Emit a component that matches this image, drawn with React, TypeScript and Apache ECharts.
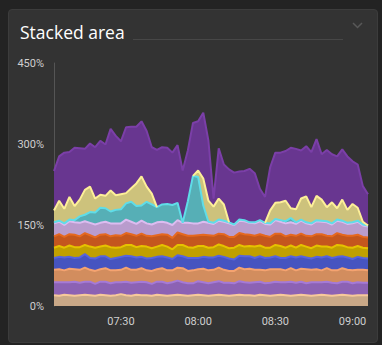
import React, { useEffect, useRef } from "react";
import * as echarts from "echarts";

// samples from 07:04 to 09:06, every 2 minutes
const startMinute = 7 * 60 + 4;
const stepMinutes = 2;
const xTickLabels = ["07:30", "08:00", "08:30", "09:00"];

const seriesNames = ["s1", "s2", "s3", "s4", "s5", "s6", "s7", "s8", "s9", "s10"];

const tanValues = [20,19,21,20,19,20,21,20,19,21, 20,19,20,22,20,19,21,20,20,19, 21,20,19,20,21,20,19,20,21,20, 19,20,21,20,19,20,21,20,20,19, 21,20,19,20,21,20,19,20,21,20, 19,20,21,20,19,20,21,20,19,20, 20,20];
const violetValues = [24,25,23,24,26,23,24,25,22,24, 25,23,24,22,25,24,23,25,24,22, 24,25,23,24,26,24,23,22,25,24, 23,24,25,23,24,22,25,24,23,25, 24,22,24,25,23,24,26,23,24,22, 25,24,23,25,24,22,24,25,23,24, 23,23];
const peachValues = [23,24,22,25,23,24,26,22,24,23, 25,24,22,23,26,24,23,25,22,24, 23,25,24,22,24,26,23,24,22,25, 24,23,25,24,22,23,25,24,26,23, 22,24,25,23,24,22,25,23,24,26, 23,24,22,25,23,24,25,22,24,23, 24,23];
const blueValues = [22,23,24,22,21,23,25,22,23,24, 22,21,23,24,22,25,23,21,22,24, 23,22,24,21,23,22,24,23,21,22, 24,23,22,24,23,21,22,24,23,22, 25,23,22,24,21,23,22,24,23,22, 21,23,24,22,23,25,22,23,21,24, 22,22];
const oliveValues = [19,20,18,21,20,19,17,21,20,18, 20,22,19,18,20,21,19,20,22,18, 19,21,20,18,19,21,20,19,22,20, 18,19,21,20,19,22,20,18,19,21, 20,19,18,21,22,19,20,18,21,20, 19,21,20,18,19,22,20,19,21,20, 19,19];
const rustValues = [21,22,20,21,23,20,22,21,19,22, 21,20,23,21,22,20,21,23,20,22, 21,20,22,21,23,20,21,22,20,21, 23,21,20,22,21,20,22,23,21,20, 21,22,20,21,23,21,20,22,21,20, 22,21,23,20,21,22,20,21,22,21, 20,20];
const lavenderValues = [24,23,22,24,23,25,22,23,24,22, 23,24,22,23,25,23,22,24,23,22, 24,23,22,24,23,21,24,23,22,24, 23,22,24,23,25,22,23,24,22,23, 24,22,23,25,22,24,23,22,24,23, 22,24,23,25,22,23,24,22,23,24, 21,20];
const tealValues = [2,2,3,3,4,12,12,20,22,28, 25,22,25,26,30,37,33,28,40,37, 28,32,35,37,32,0,40,88,86,30, 2,2,2,2,2,1,2,2,1,2, 2,2,2,2,3,4,8,3,2,2, 2,2,2,2,2,2,2,2,2,2, 2,2];
// null where the series has no data
const khakiValues = [22,37,27,42,26,31,46,47,26,24, 23,39,27,28,19,25,42,54,28,20, 0,null,null,null,null,null,null,0,12,50, 39,30,39,30,0,null,null,null,null,null, null,0,24,30,33,38,18,24,39,48, 30,45,39,26,39,21,39,24,34,24, 5,0];
const purpleValues = [73,82,104,83,108,95,76,80,95,100, 95,114,110,98,122,114,105,102,103,86, 106,106,104,97,107,97,94,98,91,122, 111,15,93,74,98,96,89,91,99,91, 58,48,80,93,92,92,112,112,89,93, 102,105,84,106,89,96,93,99,79,80, 66,58];

const seriesValues = [tanValues, violetValues, peachValues, blueValues, oliveValues, rustValues, lavenderValues, tealValues, khakiValues, purpleValues];
const areaColors = ["#c9a887", "#8c62b4", "#d28d5e", "#4654c0", "#c0a000", "#c4561e", "#b99ccd", "#56afb6", "#cdc27c", "#683690"];
const lineColors = ["#f7c99a", "#a57ad6", "#f5a370", "#5664dc", "#e6c200", "#e5681f", "#dcbcf0", "#5fdde8", "#fdef98", "#7b3fa8"];

const yTicks = [0, 150, 300, 450];

const pad = (n: number) => (n < 10 ? "0" + n : "" + n);
const fmtMinute = (m: number) => pad(Math.floor(m / 60)) + ":" + pad(m % 60);

export default function App() {
  const ref = useRef<HTMLDivElement>(null);
  useEffect(() => {
    if (!ref.current) return;
    const chart = echarts.init(ref.current, null, { renderer: "svg" });
    const categories = tanValues.map((_, i) => fmtMinute(startMinute + i * stepMinutes));
    const series = seriesValues.map((vals, si) => ({
      name: seriesNames[si],
      type: "line",
      stack: "total",
      showSymbol: false,
      symbol: "none",
      smooth: false,
      connectNulls: false,
      lineStyle: { color: lineColors[si], width: 2 },
      itemStyle: { color: lineColors[si] },
      areaStyle: { color: areaColors[si], opacity: 1 },
      data: vals.map((v) => (v === null ? "-" : v)),
    }));
    chart.setOption({
      animation: false,
      backgroundColor: "transparent",
      title: {
        text: "Stacked area",
        left: 15,
        top: 18,
        textStyle: { color: "#ffffff", fontSize: 17.5, fontWeight: "normal", fontFamily: "Open Sans" },
      },
      graphic: [
        { type: "line", shape: { x1: 133, y1: 39.5, x2: 343, y2: 39.5 }, style: { stroke: "#474747", lineWidth: 1 } },
        { type: "polyline", shape: { points: [[353, 23], [357.5, 27.5], [362, 23]] }, style: { stroke: "#585858", lineWidth: 1.5, fill: "none" } },
      ],
      grid: { left: 54, right: 14, top: 63, bottom: 39, containLabel: false, outerBoundsMode: "none" },
      xAxis: {
        type: "category",
        data: categories,
        boundaryGap: false,
        axisLine: { show: false },
        axisTick: { show: false },
        splitLine: { show: false },
        axisLabel: {
          interval: (_idx: number, val: string) => xTickLabels.includes(val),
          color: "#cfcfcf",
          fontSize: 11,
          fontFamily: "Roboto",
          margin: 10,
          hideOverlap: false,
        },
      },
      yAxis: {
        type: "value",
        min: 0,
        max: 450,
        interval: 150,
        axisLine: { show: true, lineStyle: { color: "#555555", width: 1 } },
        axisTick: { show: false },
        splitLine: { show: false },
        axisLabel: {
          formatter: (v: number) => (yTicks.includes(v) ? v + "%" : ""),
          color: "#cfcfcf",
          fontSize: 11,
          fontFamily: "Roboto",
          margin: 10,
        },
      },
      series,
    });
    return () => chart.dispose();
  }, []);
  return (
    <div style={{ position: "fixed", left: 0, top: 0, width: 382, height: 345, background: "#232323" }}>
      <div
        style={{
          position: "absolute",
          left: 8,
          top: 9,
          width: 368,
          height: 332,
          background: "#333333",
          border: "1px solid #3c3c3c",
          borderRadius: 4,
        }}
      />
      <div ref={ref} style={{ position: "absolute", left: 0, top: 0, width: 382, height: 345 }} />
    </div>
  );
}
